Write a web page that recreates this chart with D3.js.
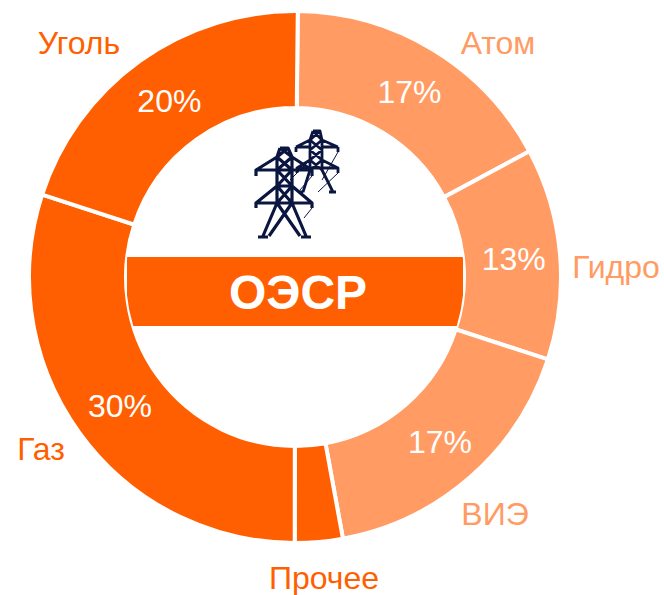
<!DOCTYPE html>
<html><head><meta charset="utf-8">
<script src="https://cdn.jsdelivr.net/npm/d3@7"></script>
<style>html,body{margin:0;padding:0;background:#fff}svg{display:block}text{font-family:"Liberation Sans",Arial,sans-serif}</style>
</head><body><svg id="c" width="664" height="595"></svg>
<script>
const categories = ["Атом","Гидро","ВИЭ","Прочее","Газ","Уголь"];
const values = [17,12.85,17.1,2.9,30,20.15];
const valueLabels = ["17%","13%","17%","","30%","20%"];
const colors = ["#FF9B63","#FF9B63","#FF9B63","#FF5F00","#FF5F00","#FF5F00"];
const centerLabel = "ОЭСР";
const labelPos = [[498,42],[616,266],[495,513],[324,577],[41,448],[79,42]];

const svg = d3.select("#c");
const cx=295, cy=277, R=266, r=169;
const g = svg.append("g").attr("transform",`translate(${cx},${cy})`);
const a0 = 0.6*Math.PI/180;
const pie = d3.pie().sort(null).startAngle(a0).endAngle(a0+2*Math.PI).value(d=>d)(values);
const arc = d3.arc().innerRadius(r).outerRadius(R);
g.selectAll("path.s").data(pie).join("path").attr("class","s").attr("d",arc)
 .attr("fill",(d,i)=>colors[i]).attr("stroke","#fff").attr("stroke-width",4);
const lab = d3.arc().innerRadius(218).outerRadius(218);
g.selectAll("text.v").data(pie).join("text").attr("class","v")
 .attr("transform",d=>{const [x,y]=lab.centroid(d);return `translate(${x+1.5},${y+0.5})`;}).attr("text-anchor","middle").attr("dy","0.36em")
 .attr("font-size",32).attr("fill","#fff").text((d,i)=>valueLabels[i]);
svg.selectAll("text.c").data(categories).join("text").attr("class","c")
 .attr("x",(d,i)=>labelPos[i][0]).attr("y",(d,i)=>labelPos[i][1]).attr("dy","0.36em")
 .attr("text-anchor","middle").attr("font-size",32).attr("fill",(d,i)=>colors[i]).text(d=>d);
svg.append("clipPath").attr("id","cl").append("circle").attr("cx",cx).attr("cy",cy).attr("r",r);
svg.append("rect").attr("x",127).attr("y",257).attr("width",336).attr("height",69).attr("fill","#FF5F00").attr("clip-path","url(#cl)");
svg.append("text").attr("x",298).attr("y",292).attr("dy","0.36em").attr("text-anchor","middle")
 .attr("font-size",48).attr("font-weight","bold").attr("fill","#fff").text(centerLabel);

const ink = "#0B1640";
const backTower = "M313,131H320L322,140V170M313,131L310,140V170M313,131L322,140M320,131L310,140M310,140L322,150L310,160L322,170M322,140L310,150L322,160L310,170M310,147L296,147M322,147H338M310,140L296,147M322,140L338,147M310,160L297,168H338L322,160M296,147V152M338,147V152M338,168V173M297,168V173M310,170L303,192M322,170L333,192M329,192H336M303,192H299";
const backThin = "M338,152L322,180M338,173L318,192M310,160L290,180";
const frontTower = "M280,148H288L292,157V203M280,148L277,157V203M280,148L292,157M288,148L277,157M277,157L292,170L277,186L292,203M292,157L277,170L292,186L277,203M277,170H292M277,186H292M277,157L256,170H312L292,157M256,170V176M312,170V176M277,186L256,203H312L292,186M256,203V208M312,203V208M277,203L263,236M292,203L306,236M277,203L300,236M292,203L269,236M258,237H268M301,237H311";
const frontThin = "M312,176L300,190M312,208L304,218";
const ic = svg.append("g").attr("fill","none").attr("stroke",ink).attr("stroke-linejoin","round");
ic.append("path").attr("d",backTower).attr("stroke-width",2.8);
ic.append("path").attr("d",backThin).attr("stroke-width",1);
ic.append("path").attr("d",frontTower).attr("stroke-width",3.2);
ic.append("path").attr("d",frontThin).attr("stroke-width",1);
</script></body></html>
